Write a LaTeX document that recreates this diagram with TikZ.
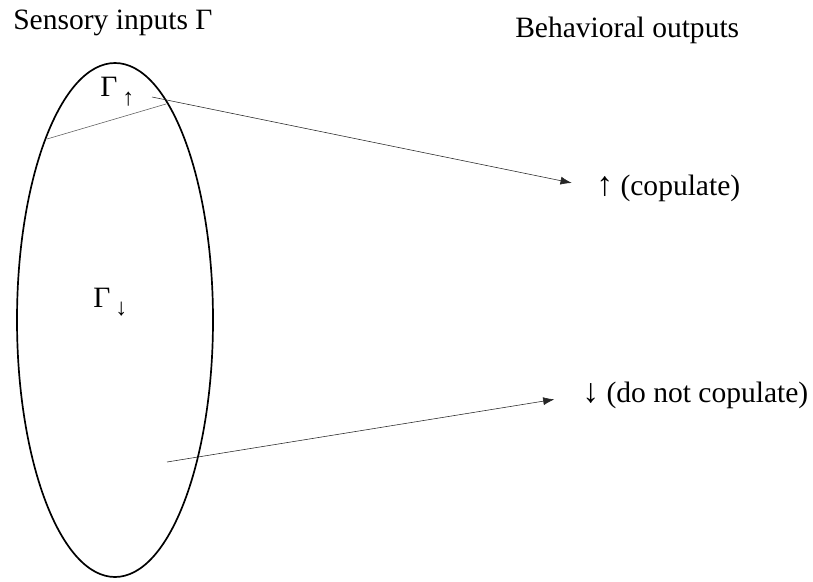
\documentclass[tikz,border=0pt]{standalone}
\usepackage{fontspec}
\setmainfont{Liberation Serif}
\usetikzlibrary{arrows.meta}

\newcommand{\subarrow}[1]{{\fontsize{17}{17}\selectfont\raisebox{-6pt}{#1}}}

\begin{document}
\begin{tikzpicture}[x=0.025cm, y=0.025cm, every node/.style={inner sep=0pt, font=\fontsize{21}{24}\selectfont}]

\useasboundingbox (0,0) rectangle (813,581);

% the set of inputs
\draw[line width=1.2pt] (115,261) ellipse (98 and 257);
\draw[gray!70!black] (47,442) -- (166,477);

\node[anchor=base west] (sens) at (13,551) {Sensory inputs Γ};
\node[anchor=base west] (beh) at (515,543) {Behavioral outputs};

\node[anchor=base west] (gup) at (100,484) {Γ\,\subarrow{↑}};
\node[anchor=base west] (gdown) at (93,274) {Γ\,\subarrow{↓}};

\node[anchor=base west] (up) at (596,386) {{\fontsize{24}{24}\selectfont↑} (copulate)};
\node[anchor=base west] (down) at (582,179) {{\fontsize{24}{24}\selectfont↓} (do not copulate)};

\coordinate (upstart) at (152,484);
\coordinate (downstart) at (167,119);

% maps
\draw[-{Latex[length=0.28cm,width=0.2cm]}, gray!30!black, shorten >=0.62cm] (upstart) -- (up.west);
\draw[-{Latex[length=0.28cm,width=0.2cm]}, gray!30!black, shorten >=0.7cm] (downstart) -- (down.west);

\end{tikzpicture}
\end{document}
